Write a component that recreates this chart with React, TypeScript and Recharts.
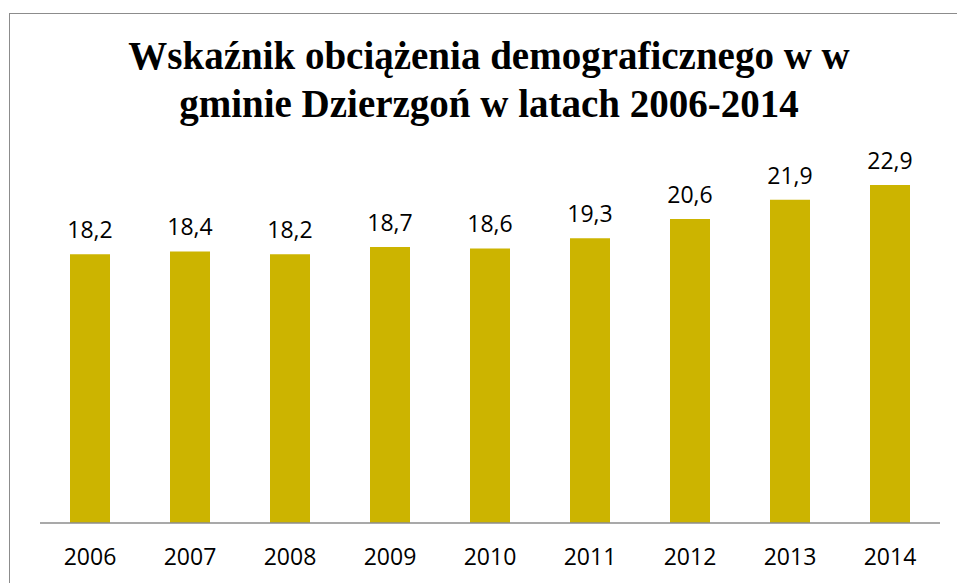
import React from 'react';
import { BarChart, Bar, XAxis, YAxis, LabelList } from 'recharts';

const years = ['2006', '2007', '2008', '2009', '2010', '2011', '2012', '2013', '2014'];
const values = [18.2, 18.4, 18.2, 18.7, 18.6, 19.3, 20.6, 21.9, 22.9];

const chartData = years.map((year, i) => ({ year, value: values[i] }));

const App: React.FC = () => {
  return (
    <div style={{ position: 'absolute', left: 0, top: 0, width: 957, height: 583, overflow: 'hidden', background: '#fff' }}>
      <div
        style={{
          position: 'absolute',
          left: 9,
          top: 13,
          width: 980,
          height: 620,
          border: '1.5px solid #8c8c8c',
        }}
      />
      <div
        style={{
          position: 'absolute',
          left: 0,
          top: 32,
          width: 978,
          textAlign: 'center',
          fontFamily: '"Liberation Serif", serif',
          fontWeight: 'bold',
          fontSize: 39,
          lineHeight: '48px',
          color: '#000',
        }}
      >
        Wskaźnik obciążenia demograficznego w w
        <br />
        gminie Dzierzgoń w latach 2006-2014
      </div>
      <div style={{ position: 'absolute', left: 0, top: 0 }}>
        <BarChart
          width={957}
          height={583}
          data={chartData}
          margin={{ top: 154, right: 17, bottom: 10, left: 40 }}
          barCategoryGap="30%"
        >
          <XAxis
            dataKey="year"
            height={50}
            tickLine={false}
            tickSize={0}
            tickMargin={26}
            axisLine={{ stroke: '#8c8c8c', strokeWidth: 1.5 }}
            tick={{ fill: '#000', fontSize: 23, fontFamily: '"Open Sans", sans-serif' }}
            interval={0}
          />
          <YAxis hide domain={[0, 25]} />
          <Bar dataKey="value" fill="#CCB400" isAnimationActive={false}>
            <LabelList
              dataKey="value"
              position="top"
              offset={16}
              formatter={(v: number) => v.toFixed(1).replace('.', ',')}
              style={{ fill: '#000', fontSize: 23, fontFamily: '"Open Sans", sans-serif' }}
            />
          </Bar>
        </BarChart>
      </div>
    </div>
  );
};

export default App;
